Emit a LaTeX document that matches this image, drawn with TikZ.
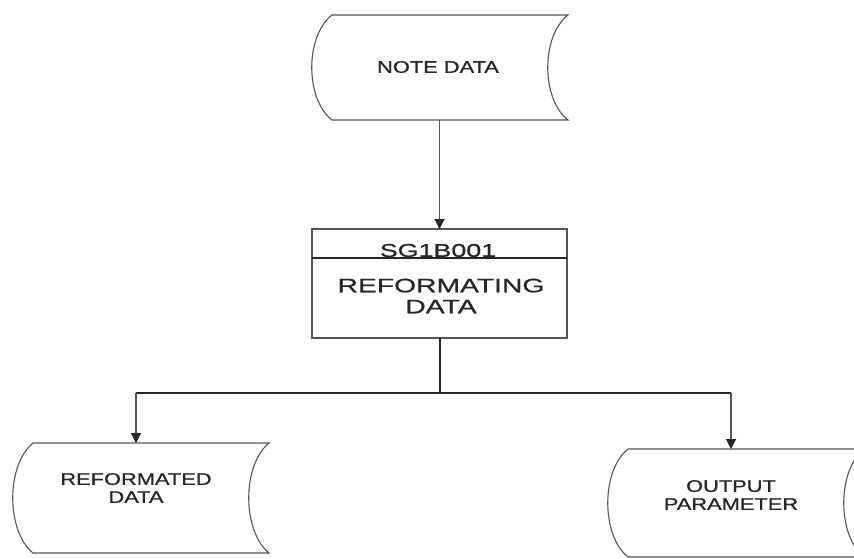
\documentclass[tikz,border=0pt]{standalone}
\usepackage{fontspec}
\setmainfont{Liberation Sans}
\newfontfamily\lblfont[FakeStretch=1.3,FakeBold=0.8]{Liberation Sans}
\newfontfamily\boxfont[FakeStretch=1.45,FakeBold=0.8]{Liberation Sans}
\usetikzlibrary{arrows.meta,calc}

\definecolor{ink}{HTML}{262626}
\definecolor{edge}{HTML}{555555}

% stored-data symbol: convex left side, concave right side
\newcommand\storeoutline[1]{%
  \draw[storeedge] (#1.north west)
    .. controls ($(#1.north west)!0.2!(#1.south west)+(-27,0)$) and ($(#1.north west)!0.8!(#1.south west)+(-27,0)$) .. (#1.south west)
    -- (#1.south east)
    .. controls ($(#1.north east)!0.8!(#1.south east)+(-27,0)$) and ($(#1.north east)!0.2!(#1.south east)+(-27,0)$) .. (#1.north east)
    -- cycle;}

\tikzset{
  storebody/.style={rectangle, inner sep=0pt, outer sep=0pt, minimum width=236pt, minimum height=#1},
  storeedge/.style={draw=edge, line width=1.1pt},
  procbox/.style={rectangle, draw=edge, line width=1.3pt, inner sep=0pt, outer sep=0pt,
                  minimum width=255pt, minimum height=109pt},
  lbl/.style={font=\lblfont\fontsize{16.8}{18}\selectfont, text=ink, align=center, inner sep=0pt},
  boxlbl/.style={font=\boxfont\fontsize{19.5}{21}\selectfont, text=ink, align=center, inner sep=0pt},
  flow/.style={draw=edge, line width=1.1pt, -{Triangle[length=10pt,width=10pt,fill=ink,color=ink]}},
  bus/.style={draw=ink, line width=2pt},
}

\begin{document}
\begin{tikzpicture}[x=1pt, y=-1pt]
\useasboundingbox (0,0) rectangle (854,558);
\fill[white] (0,0) rectangle (854,558);
\clip (0,0) rectangle (854,558);

% input data
\node[storebody=105pt] (note) at (450,67.5) {};
\storeoutline{note}
\node[lbl] (notetext) at (438,67) {NOTE DATA};

% process box
\node[procbox] (proc) at (439.5,283.5) {};
\draw[bus] ($(proc.north west)+(0,29)$) -- ($(proc.north east)+(0,29)$);
\node[boxlbl, font=\boxfont\fontsize{18.5}{20}\selectfont] (procid) at (438,250.5) {SG1B001};
\node[boxlbl] (proctext) at (441,296) {REFORMATING\\DATA};

% outputs
\node[storebody=110pt] (reformed) at (151,498) {};
\storeoutline{reformed}
\node[lbl] (reftext) at (136,488) {REFORMATED\\DATA};

\node[storebody=108pt] (output) at (746,503) {};
\storeoutline{output}
\node[lbl] (outtext) at (731,495) {OUTPUT\\PARAMETER};

% connectors
\coordinate (hub) at (439.5,393);
\draw[flow] (note.south -| proc.north) -- (proc.north);
\draw[bus] (proc.south) -- (hub);
\draw[bus] (hub -| reftext) -- (hub -| outtext);
\draw[flow] (hub -| reftext) -- (reftext |- reformed.north);
\draw[flow] (hub -| outtext) -- (outtext |- output.north);
\end{tikzpicture}
\end{document}
